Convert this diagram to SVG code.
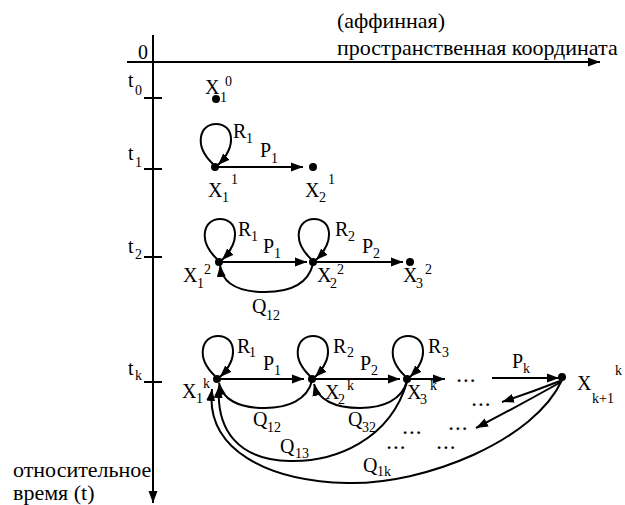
<svg xmlns="http://www.w3.org/2000/svg" width="625" height="505" viewBox="0 0 625 505" font-family="'Liberation Serif', 'Times New Roman', serif">
<style>
text{font-family:'Liberation Serif','Times New Roman',serif;font-size:20px;fill:#000}
.big{font-size:22px}
.s{font-size:14px}
.d{font-size:17px;font-weight:bold;letter-spacing:2.5px}
.ln{fill:none;stroke:#000;stroke-width:2}
.ar{fill:none;stroke:#000;stroke-width:2;marker-end:url(#ah)}
.dot{fill:#000}
</style>
<defs>
<marker id="ah" markerWidth="13" markerHeight="10" refX="12" refY="5" orient="auto" markerUnits="userSpaceOnUse"><path d="M0,0.5 L12,5 L0,9.5 z" fill="#000"/></marker>
</defs>
<g id="axes">
<line class="ar" x1="127" y1="62" x2="600" y2="62"/>
<line class="ar" x1="153" y1="35" x2="153" y2="503"/>
<line class="ln" x1="144" y1="98" x2="162" y2="98"/>
<line class="ln" x1="144" y1="169" x2="162" y2="169"/>
<line class="ln" x1="144" y1="257" x2="162" y2="257"/>
<line class="ln" x1="144" y1="382" x2="162" y2="382"/>
<text x="138" y="59">0</text>
<text class="big" x="337" y="28">(аффинная)</text>
<text class="big" x="337" y="55">пространственная координата</text>
<text class="big" x="13" y="477">относительное</text>
<text class="big" x="13" y="500">время (t)</text>
<text x="128" y="87">t<tspan class="s" x="135" y="95">0</tspan></text>
<text x="128" y="160">t<tspan class="s" x="135" y="167">1</tspan></text>
<text x="128" y="253">t<tspan class="s" x="135" y="259">2</tspan></text>
<text x="128" y="375">t<tspan class="s" x="135" y="380">k</tspan></text>
</g>
<g id="connectors">
<path class="ar" d="M213,164 C193,145 200,124 216,124 C233,124 238,145 218,165"/>
<line class="ar" x1="215" y1="167" x2="303" y2="167"/>
<path class="ar" d="M217,259 C197,240 204,219 220,219 C237,219 242,240 222,260"/>
<path class="ar" d="M311,259 C291,240 298,219 314,219 C331,219 336,240 316,260"/>
<line class="ar" x1="219" y1="262" x2="307" y2="262"/>
<line class="ar" x1="313" y1="262" x2="403" y2="262"/>
<path class="ar" d="M313,264 C308,284 290,292 265,292 C238,292 222,283 220,265"/>
<path class="ar" d="M215,376 C195,357 202,336 218,336 C235,336 240,357 220,377"/>
<path class="ar" d="M310,376 C290,357 297,336 313,336 C330,336 335,357 315,377"/>
<path class="ar" d="M405,376 C385,357 392,336 408,336 C425,336 430,357 410,377"/>
<line class="ar" x1="217" y1="379" x2="304" y2="379"/>
<line class="ar" x1="312" y1="379" x2="400" y2="379"/>
<line class="ar" x1="407" y1="379" x2="445" y2="379"/>
<line class="ar" x1="492" y1="378" x2="559" y2="378"/>
<path class="ar" d="M312,381 C307,400 288,408 265,408 C238,408 222,399 219,383"/>
<path class="ar" d="M407,381 C402,400 383,408 360,408 C335,408 318,400 314,384"/>
<path class="ar" d="M407,382 C390,440 335,462 290,461 C238,460 216,430 219,386"/>
<path class="ar" d="M562,380 C535,440 425,485 347,483 C268,481 205,450 212,389"/>
<path class="ar" d="M560,381 Q532,392 502,402"/>
<path class="ar" d="M561,382 Q520,405 476,428"/>
</g>
<g id="n_x10">
<circle class="dot" cx="216" cy="99" r="4"/>
<text x="205" y="94">X<tspan class="s" x="220" y="102">1</tspan><tspan class="s" x="225" y="86">0</tspan></text>
</g>
<g id="n_x11">
<circle class="dot" cx="215" cy="167" r="4"/>
<text x="208" y="197">X<tspan class="s" x="222" y="202">1</tspan><tspan class="s" x="231" y="184">1</tspan></text>
<text x="233" y="138">R<tspan class="s" x="246" y="143">1</tspan></text>
<text x="260" y="157">P<tspan class="s" x="271" y="163">1</tspan></text>
</g>
<g id="n_x21">
<circle class="dot" cx="313" cy="167" r="4"/>
<text x="305" y="197">X<tspan class="s" x="319" y="202">2</tspan><tspan class="s" x="328" y="184">1</tspan></text>
</g>
<g id="n_x12">
<circle class="dot" cx="219" cy="262" r="4"/>
<text x="183" y="282">X<tspan class="s" x="197" y="288">1</tspan><tspan class="s" x="204" y="274">2</tspan></text>
<text x="238" y="236">R<tspan class="s" x="251" y="241">1</tspan></text>
<text x="263" y="253">P<tspan class="s" x="274" y="258">1</tspan></text>
<text x="252" y="313">Q<tspan class="s" x="266" y="320">12</tspan></text>
</g>
<g id="n_x22">
<circle class="dot" cx="313" cy="262" r="4"/>
<text x="317" y="282">X<tspan class="s" x="330" y="288">2</tspan><tspan class="s" x="337" y="274">2</tspan></text>
<text x="335" y="236">R<tspan class="s" x="348" y="241">2</tspan></text>
<text x="362" y="253">P<tspan class="s" x="373" y="258">2</tspan></text>
</g>
<g id="n_x32">
<circle class="dot" cx="410" cy="262" r="4"/>
<text x="403" y="282">X<tspan class="s" x="416" y="288">3</tspan><tspan class="s" x="425" y="274">2</tspan></text>
</g>
<g id="n_x1k">
<circle class="dot" cx="217" cy="379" r="4"/>
<text x="182" y="398">X<tspan class="s" x="196" y="403">1</tspan><tspan class="s" x="203" y="388">k</tspan></text>
<text x="237" y="353">R<tspan class="s" x="249" y="357">1</tspan></text>
<text x="263" y="370">P<tspan class="s" x="274" y="375">1</tspan></text>
<text x="253" y="426">Q<tspan class="s" x="267" y="432">12</tspan></text>
<text x="280" y="453">Q<tspan class="s" x="295" y="458">13</tspan></text>
<text x="363" y="472">Q<tspan class="s" x="377" y="476">1k</tspan></text>
</g>
<g id="n_x2k">
<circle class="dot" cx="312" cy="379" r="4"/>
<text x="325" y="399">X<tspan class="s" x="338" y="404">2</tspan><tspan class="s" x="347" y="390">k</tspan></text>
<text x="333" y="353">R<tspan class="s" x="347" y="357">2</tspan></text>
<text x="360" y="370">P<tspan class="s" x="371" y="375">2</tspan></text>
<text x="348" y="426">Q<tspan class="s" x="362" y="432">32</tspan></text>
</g>
<g id="n_x3k">
<circle class="dot" cx="407" cy="379" r="4"/>
<text x="407" y="399">X<tspan class="s" x="420" y="404">3</tspan><tspan class="s" x="430" y="390">k</tspan></text>
<text x="428" y="353">R<tspan class="s" x="442" y="357">3</tspan></text>
</g>
<g id="n_xk1k">
<circle class="dot" cx="562" cy="377" r="4"/>
<text x="577" y="390">X<tspan class="s" x="592" y="403">k+1</tspan><tspan class="s" x="615" y="375">k</tspan></text>
<text x="512" y="368">P<tspan class="s" x="523" y="373">k</tspan></text>
</g>
<g id="ellipses">
<text class="d" x="457" y="382">...</text>
<text class="d" x="472" y="406">...</text>
<text class="d" x="449" y="430">...</text>
<text class="d" x="403" y="434">...</text>
<text class="d" x="387" y="449">...</text>
<text class="d" x="437" y="449">...</text>
</g>
</svg>
